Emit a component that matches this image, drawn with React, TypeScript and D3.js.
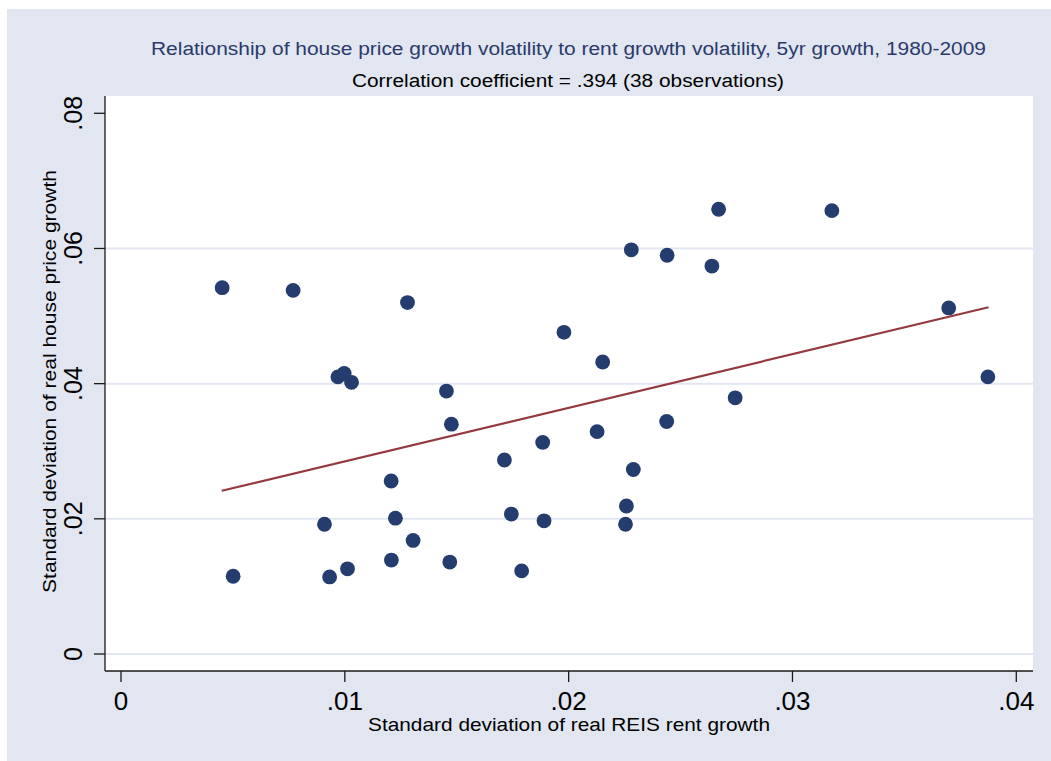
import React from "react";
import * as d3 from "d3";

const rentVol = [
  0.00452, 0.00501, 0.00769, 0.00909, 0.00932, 0.00969, 0.00997, 0.0103, 0.01012,
  0.01207, 0.01208, 0.01226, 0.0128, 0.01305, 0.01454, 0.01469, 0.01476,
  0.01713, 0.01744, 0.0179, 0.01884, 0.0189, 0.01979, 0.02127, 0.02152,
  0.02254, 0.02258, 0.0228, 0.02289, 0.02438, 0.0244, 0.0264, 0.0267, 0.02744,
  0.03176, 0.03698, 0.03873,
];
const priceVol = [
  0.0542, 0.0115, 0.0538, 0.0192, 0.0114, 0.041, 0.0415, 0.0402, 0.0126,
  0.0256, 0.0139, 0.0201, 0.052, 0.0168, 0.0389, 0.0136, 0.034,
  0.0287, 0.0207, 0.0123, 0.0313, 0.0197, 0.0476, 0.0329, 0.0432,
  0.0192, 0.0219, 0.0598, 0.0273, 0.0344, 0.059, 0.0574, 0.0658, 0.0379,
  0.0656, 0.0512, 0.041,
];
const fitX = [0.0045, 0.03876];
const fitY = [0.02415, 0.0513];
const xTicks = [0, 0.01, 0.02, 0.03, 0.04];
const yTicks = [0, 0.02, 0.04, 0.06, 0.08];
const gridTicks = [0, 0.02, 0.04, 0.06];

const fmt = (v: number) => (v === 0 ? "0" : d3.format(".2f")(v).replace(/^0/, ""));

const BG = "#E1E6F0";
const FONT = "'Liberation Sans', Arial, sans-serif";

export default function App() {
  const x = d3.scaleLinear().domain([0, 0.04]).range([121, 1016.3]);
  const y = d3.scaleLinear().domain([0, 0.08]).range([654, 113.3]);
  const line = d3
    .line<number>()
    .x((d) => x(d))
    .y((_, i) => y(fitY[i]));
  const left = 105, right = 1033, top = 96, bottom = 671;

  return (
    <svg
      width={1051}
      height={761}
      style={{ position: "absolute", left: 0, top: 0, display: "block" }}
      fontFamily={FONT}
    >
      <rect x={0} y={0} width={1051} height={761} fill="#ffffff" />
      <rect x={7} y={9} width={1044} height={752} fill={BG} />
      <rect x={left} y={top} width={right - left} height={bottom - top} fill="#ffffff" />
      {gridTicks.map((t) => (
        <line key={t} x1={left} x2={right} y1={y(t)} y2={y(t)} stroke={BG} strokeWidth={2} />
      ))}
      {/* axes */}
      <line x1={left} x2={left} y1={top} y2={bottom} stroke="#1a1a1a" strokeWidth={1.3} />
      <line x1={left} x2={right} y1={bottom} y2={bottom} stroke="#1a1a1a" strokeWidth={1.3} />
      {yTicks.map((t) => (
        <g key={t}>
          <line x1={94} x2={left} y1={y(t)} y2={y(t)} stroke="#1a1a1a" strokeWidth={1.3} />
          <text
            transform={`translate(82,${y(t)}) rotate(-90)`}
            textAnchor="middle"
            fontSize={25}
            fill="#000"
          >
            {fmt(t)}
          </text>
        </g>
      ))}
      {xTicks.map((t) => (
        <g key={t}>
          <line x1={x(t)} x2={x(t)} y1={bottom} y2={682} stroke="#1a1a1a" strokeWidth={1.3} />
          <text x={x(t)} y={710} textAnchor="middle" fontSize={26} fill="#000">
            {fmt(t)}
          </text>
        </g>
      ))}
      {/* fit line */}
      <path d={line(fitX) || ""} fill="none" stroke="#943A3F" strokeWidth={2.2} />
      {/* points */}
      {rentVol.map((v, i) => (
        <circle key={i} cx={x(v)} cy={y(priceVol[i])} r={7.4} fill="#243C6E" />
      ))}
      {/* titles */}
      <text x={568.5} y={55} textAnchor="middle" fontSize={18} fill="#2A3A6C" textLength={835} lengthAdjust="spacingAndGlyphs">
        Relationship of house price growth volatility to rent growth volatility, 5yr growth, 1980-2009
      </text>
      <text x={568} y={87} textAnchor="middle" fontSize={18} fill="#000" textLength={432} lengthAdjust="spacingAndGlyphs">
        Correlation coefficient = .394 (38 observations)
      </text>
      <text x={569} y={731} textAnchor="middle" fontSize={19} fill="#000" textLength={402} lengthAdjust="spacingAndGlyphs">
        Standard deviation of real REIS rent growth
      </text>
      <text
        transform="translate(56,381.5) rotate(-90)"
        textAnchor="middle"
        fontSize={19}
        fill="#000"
        textLength={423}
        lengthAdjust="spacingAndGlyphs"
      >
        Standard deviation of real house price growth
      </text>
    </svg>
  );
}
